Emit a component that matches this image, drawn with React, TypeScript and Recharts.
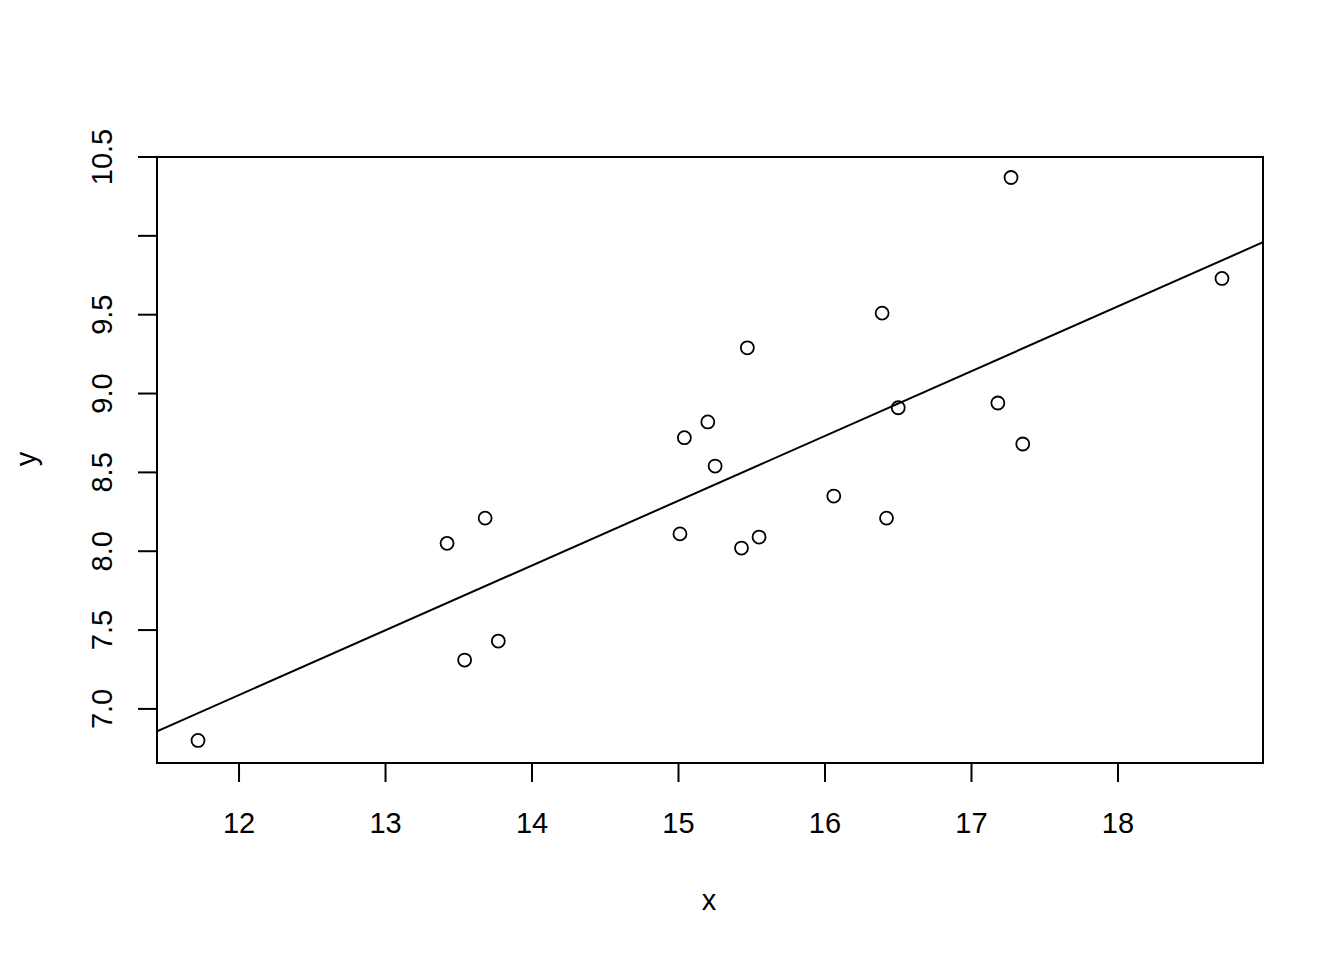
import React from "react";
import {
  ScatterChart,
  Scatter,
  XAxis,
  YAxis,
  ReferenceArea,
  ReferenceLine,
  Label,
} from "recharts";

const xs = [
  11.72, 13.42, 13.68, 13.54, 13.77, 15.04, 15.2, 15.25, 15.01, 15.47,
  15.43, 15.55, 16.06, 16.39, 16.42, 16.5, 17.18, 17.27, 17.35, 18.71,
];
const ys = [
  6.8, 8.05, 8.21, 7.31, 7.43, 8.72, 8.82, 8.54, 8.11, 9.29,
  8.02, 8.09, 8.35, 9.51, 8.21, 8.91, 8.94, 10.37, 8.68, 9.73,
];

const xTicks = [12, 13, 14, 15, 16, 17, 18];
const yTicks = [7, 7.5, 8, 8.5, 9, 9.5, 10, 10.5];
// R drops the 10.0 label because it would overlap
const yTickLabels = ["7.0", "7.5", "8.0", "8.5", "9.0", "9.5", "", "10.5"];

const X_DOMAIN: [number, number] = [11.44, 18.99];
const Y_DOMAIN: [number, number] = [6.657, 10.5];

const FONT = "'Liberation Sans', Arial, sans-serif";
const points = xs.map((x, i) => ({ x, y: ys[i] }));

// least squares fit, like abline(lm(y ~ x))
function fit() {
  const n = xs.length;
  const mx = xs.reduce((a, b) => a + b, 0) / n;
  const my = ys.reduce((a, b) => a + b, 0) / n;
  let sxy = 0;
  let sxx = 0;
  for (let i = 0; i < n; i++) {
    sxy += (xs[i] - mx) * (ys[i] - my);
    sxx += (xs[i] - mx) * (xs[i] - mx);
  }
  const b = sxy / sxx;
  return { a: my - b * mx, b };
}

const { a, b } = fit();
const fitSegment = [
  { x: X_DOMAIN[0], y: a + b * X_DOMAIN[0] },
  { x: X_DOMAIN[1], y: a + b * X_DOMAIN[1] },
];

function XTick({ x, y, payload }: any) {
  return (
    <text x={x} y={y + 49} textAnchor="middle" fontSize={29} fontFamily={FONT} fill="#000">
      {payload.value}
    </text>
  );
}

function YTick({ y, payload, index }: any) {
  const label = yTickLabels[index] ?? "";
  return (
    <text
      x={112}
      y={y}
      transform={`rotate(-90, 112, ${y})`}
      textAnchor="middle"
      fontSize={29}
      fontFamily={FONT}
      fill="#000"
    >
      {label}
    </text>
  );
}

function Circle({ cx, cy }: any) {
  return <circle cx={cx} cy={cy} r={6.5} fill="none" stroke="#000" strokeWidth={1.8} />;
}

export default function App() {
  return (
    <div style={{ position: "absolute", left: 0, top: 0, background: "#fff" }}>
      <ScatterChart
        width={1344}
        height={960}
        margin={{ top: 157, right: 81, bottom: 0, left: 0 }}
      >
        <XAxis
          type="number"
          dataKey="x"
          domain={X_DOMAIN}
          allowDataOverflow
          ticks={xTicks}
          height={197}
          axisLine={false}
          tickLine={{ stroke: "#000", strokeWidth: 2 }}
          tickSize={19}
          tick={<XTick />}
        >
          <Label
            content={() => (
              <text x={709} y={910} textAnchor="middle" fontSize={29} fontFamily={FONT} fill="#000">
                x
              </text>
            )}
          />
        </XAxis>
        <YAxis
          type="number"
          dataKey="y"
          domain={Y_DOMAIN}
          allowDataOverflow
          ticks={yTicks}
          width={157}
          axisLine={false}
          tickLine={{ stroke: "#000", strokeWidth: 2 }}
          tickSize={19}
          tick={<YTick />}
        >
          <Label
            content={() => (
              <text
                x={36}
                y={459}
                transform="rotate(-90, 36, 459)"
                textAnchor="middle"
                fontSize={29}
                fontFamily={FONT}
                fill="#000"
              >
                y
              </text>
            )}
          />
        </YAxis>
        <ReferenceArea
          x1={X_DOMAIN[0]}
          x2={X_DOMAIN[1]}
          y1={Y_DOMAIN[0]}
          y2={Y_DOMAIN[1]}
          fill="none"
          stroke="#000"
          strokeWidth={2}
          ifOverflow="visible"
        />
        <ReferenceLine segment={fitSegment} stroke="#000" strokeWidth={2} ifOverflow="hidden" />
        <Scatter data={points} shape={<Circle />} isAnimationActive={false} />
      </ScatterChart>
    </div>
  );
}
